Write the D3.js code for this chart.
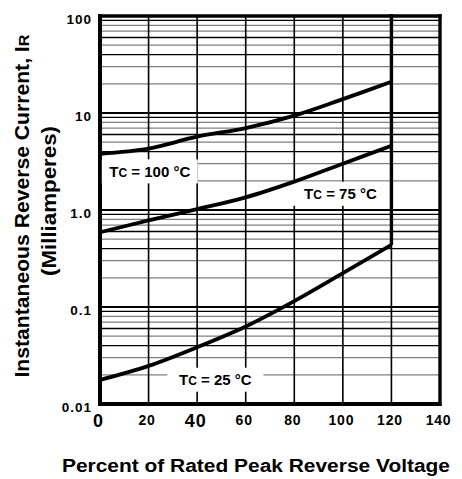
<!DOCTYPE html>
<meta charset="utf-8">
<style>
body {
  margin: 0;
  background: #fff;
  font-family: "Liberation Sans", Arial, Helvetica, sans-serif;
  font-weight: bold;
}
.grid-minor { stroke: #808080; stroke-width: 1.3; }
.grid-dark { stroke: #000; stroke-width: 1.3; }
.grid-major { stroke: #000; stroke-width: 2; }
.vgrid { stroke: #000; stroke-width: 1.6; }
.curve { fill: none; stroke: #000; stroke-width: 3.8; }
</style>
<body>
<script src="https://cdn.jsdelivr.net/npm/d3@7/dist/d3.min.js"></script>
<script>

// percent of rated peak reverse voltage
var voltagePct = [0, 20, 40, 60, 80, 100, 120];

// instantaneous reverse current (mA)
var irTc100 = [3.8, 4.3, 5.7, 7.0, 9.4, 13.9, 21.0];
var irTc75  = [0.59, 0.78, 1.02, 1.35, 1.96, 3.0, 4.6];
var irTc25  = [0.0177, 0.0247, 0.0385, 0.063, 0.115, 0.223, 0.436];

var xTicks = [0, 20, 40, 60, 80, 100, 120, 140];
var xTickBig = [0, 40];   // these two are printed larger in the original
var yTicks = [0.01, 0.1, 1, 10, 100];
var yTickLabels = ["0.01", "0.1", "1.0", "10", "100"];

var curveLabels = [
  {t: "100", x: 20.5, v: 2.5},
  {t: "75", x: 99, v: 1.47},
  {t: "25", x: 47.5, v: 0.0178}
];

var width = 462,
    height = 479;

var x = d3.scaleLinear().domain([0, 140]).range([100, 440]);
var y = d3.scaleLog().domain([0.01, 100]).range([404, 16]);

var svg = d3.select("body").append("svg")
    .attr("width", width)
    .attr("height", height);

// horizontal log grid
var minor = [];
[0.01, 0.1, 1, 10].forEach(function(dec) {
  d3.range(2, 10).forEach(function(m) { minor.push({v: dec * m, m: m}); });
});

svg.append("g").selectAll("line")
    .data(minor)
  .enter().append("line")
    .attr("class", function(d) { return (d.m == 4 || d.m == 6 || d.m == 9) ? "grid-dark" : "grid-minor"; })
    .attr("x1", x(0)).attr("x2", x(140))
    .attr("y1", function(d) { return y(d.v); })
    .attr("y2", function(d) { return y(d.v); });

svg.append("g").selectAll("line")
    .data([0.1, 1, 10])
  .enter().append("line")
    .attr("class", "grid-major")
    .attr("x1", x(0)).attr("x2", x(140))
    .attr("y1", function(d) { return y(d); })
    .attr("y2", function(d) { return y(d); });

// vertical grid
svg.append("g").selectAll("line")
    .data([20, 40, 60, 80, 100, 120])
  .enter().append("line")
    .attr("class", "vgrid")
    .attr("x1", function(d) { return x(d); })
    .attr("x2", function(d) { return x(d); })
    .attr("y1", y(100)).attr("y2", y(0.01));

// heavy line at the 120 % limit, down to the 25 C curve
svg.append("line")
    .attr("x1", x(120)).attr("x2", x(120))
    .attr("y1", y(100) - 2).attr("y2", y(irTc25[6]))
    .attr("stroke", "#000").attr("stroke-width", 3.4);

// frame
svg.append("line").attr("x1", x(0) - 2).attr("x2", x(140) + 1.5)
    .attr("y1", y(100)).attr("y2", y(100))
    .attr("stroke", "#000").attr("stroke-width", 3.4);
svg.append("line").attr("x1", x(0) - 2).attr("x2", x(140) + 1.5)
    .attr("y1", y(0.01)).attr("y2", y(0.01))
    .attr("stroke", "#000").attr("stroke-width", 4);
svg.append("line").attr("x1", x(0)).attr("x2", x(0))
    .attr("y1", y(100) - 2).attr("y2", y(0.01) + 2)
    .attr("stroke", "#000").attr("stroke-width", 4);
svg.append("line").attr("x1", x(140)).attr("x2", x(140))
    .attr("y1", y(100) - 2).attr("y2", y(0.01) + 2)
    .attr("stroke", "#000").attr("stroke-width", 3.4);

// curve labels in white boxes
var lab = svg.append("g").selectAll("g")
    .data(curveLabels)
  .enter().append("g")
    .attr("transform", function(d) { return "translate(" + x(d.x) + "," + y(d.v) + ")"; });

lab.append("rect")
    .attr("x", -48).attr("y", -12)
    .attr("width", 96).attr("height", 24)
    .attr("fill", "#fff");

var lt = lab.append("text")
    .attr("text-anchor", "middle")
    .attr("dy", "0.36em")
    .attr("font-size", 15);
lt.append("tspan").text("T");
lt.append("tspan").attr("font-size", 12).text("C");
lt.append("tspan").text(function(d) { return " = " + d.t + " \u00B0C"; });

// curves
var line = d3.line()
    .x(function(d, i) { return x(voltagePct[i]); })
    .y(function(d) { return y(d); })
    .curve(d3.curveCatmullRom.alpha(0.5));

svg.append("g").selectAll("path")
    .data([irTc100, irTc75, irTc25])
  .enter().append("path")
    .attr("class", "curve")
    .attr("d", line);

// axes
var yAxis = svg.append("g")
    .attr("transform", "translate(" + (x(0) - 8) + ",0)")
    .call(d3.axisLeft(y).tickValues(yTicks).tickSize(0)
      .tickFormat(function(d, i) { return yTickLabels[i]; }));
yAxis.select(".domain").remove();
yAxis.selectAll("text")
    .attr("x", 0)
    .attr("dy", "0.55em")
    .attr("fill", "#000")
    .attr("font-family", "Liberation Sans, Arial, sans-serif")
    .attr("font-weight", "bold")
    .attr("font-size", 13.5)
    .attr("letter-spacing", 1);

var xAxis = svg.append("g")
    .attr("transform", "translate(0," + (y(0.01) + 8) + ")")
    .call(d3.axisBottom(x).tickValues(xTicks).tickSize(0));
xAxis.select(".domain").remove();
xAxis.selectAll("text")
    .attr("y", function(d) { return xTickBig.indexOf(d) >= 0 ? 15 : 13; })
    .attr("dy", 0)
    .attr("dx", -2)
    .attr("fill", "#000")
    .attr("font-family", "Liberation Sans, Arial, sans-serif")
    .attr("font-weight", "bold")
    .attr("letter-spacing", 0.8)
    .attr("font-size", function(d) { return xTickBig.indexOf(d) >= 0 ? 18 : 14; });

// axis titles
svg.append("text")
    .attr("x", 256).attr("y", 472)
    .attr("text-anchor", "middle")
    .attr("font-size", 17.5)
    .attr("textLength", 388)
    .attr("lengthAdjust", "spacingAndGlyphs")
    .text("Percent of Rated Peak Reverse Voltage");

var yt1 = svg.append("text")
    .attr("transform", "translate(29,206) rotate(-90)")
    .attr("text-anchor", "middle")
    .attr("font-size", 19.5)
    .attr("textLength", 343)
    .attr("lengthAdjust", "spacingAndGlyphs");
yt1.append("tspan").text("Instantaneous Reverse Current, I");
yt1.append("tspan").attr("font-size", 15).text("R");

svg.append("text")
    .attr("transform", "translate(56,201) rotate(-90)")
    .attr("text-anchor", "middle")
    .attr("font-size", 19.5)
    .attr("textLength", 150)
    .attr("lengthAdjust", "spacingAndGlyphs")
    .text("(Milliamperes)");

</script>
